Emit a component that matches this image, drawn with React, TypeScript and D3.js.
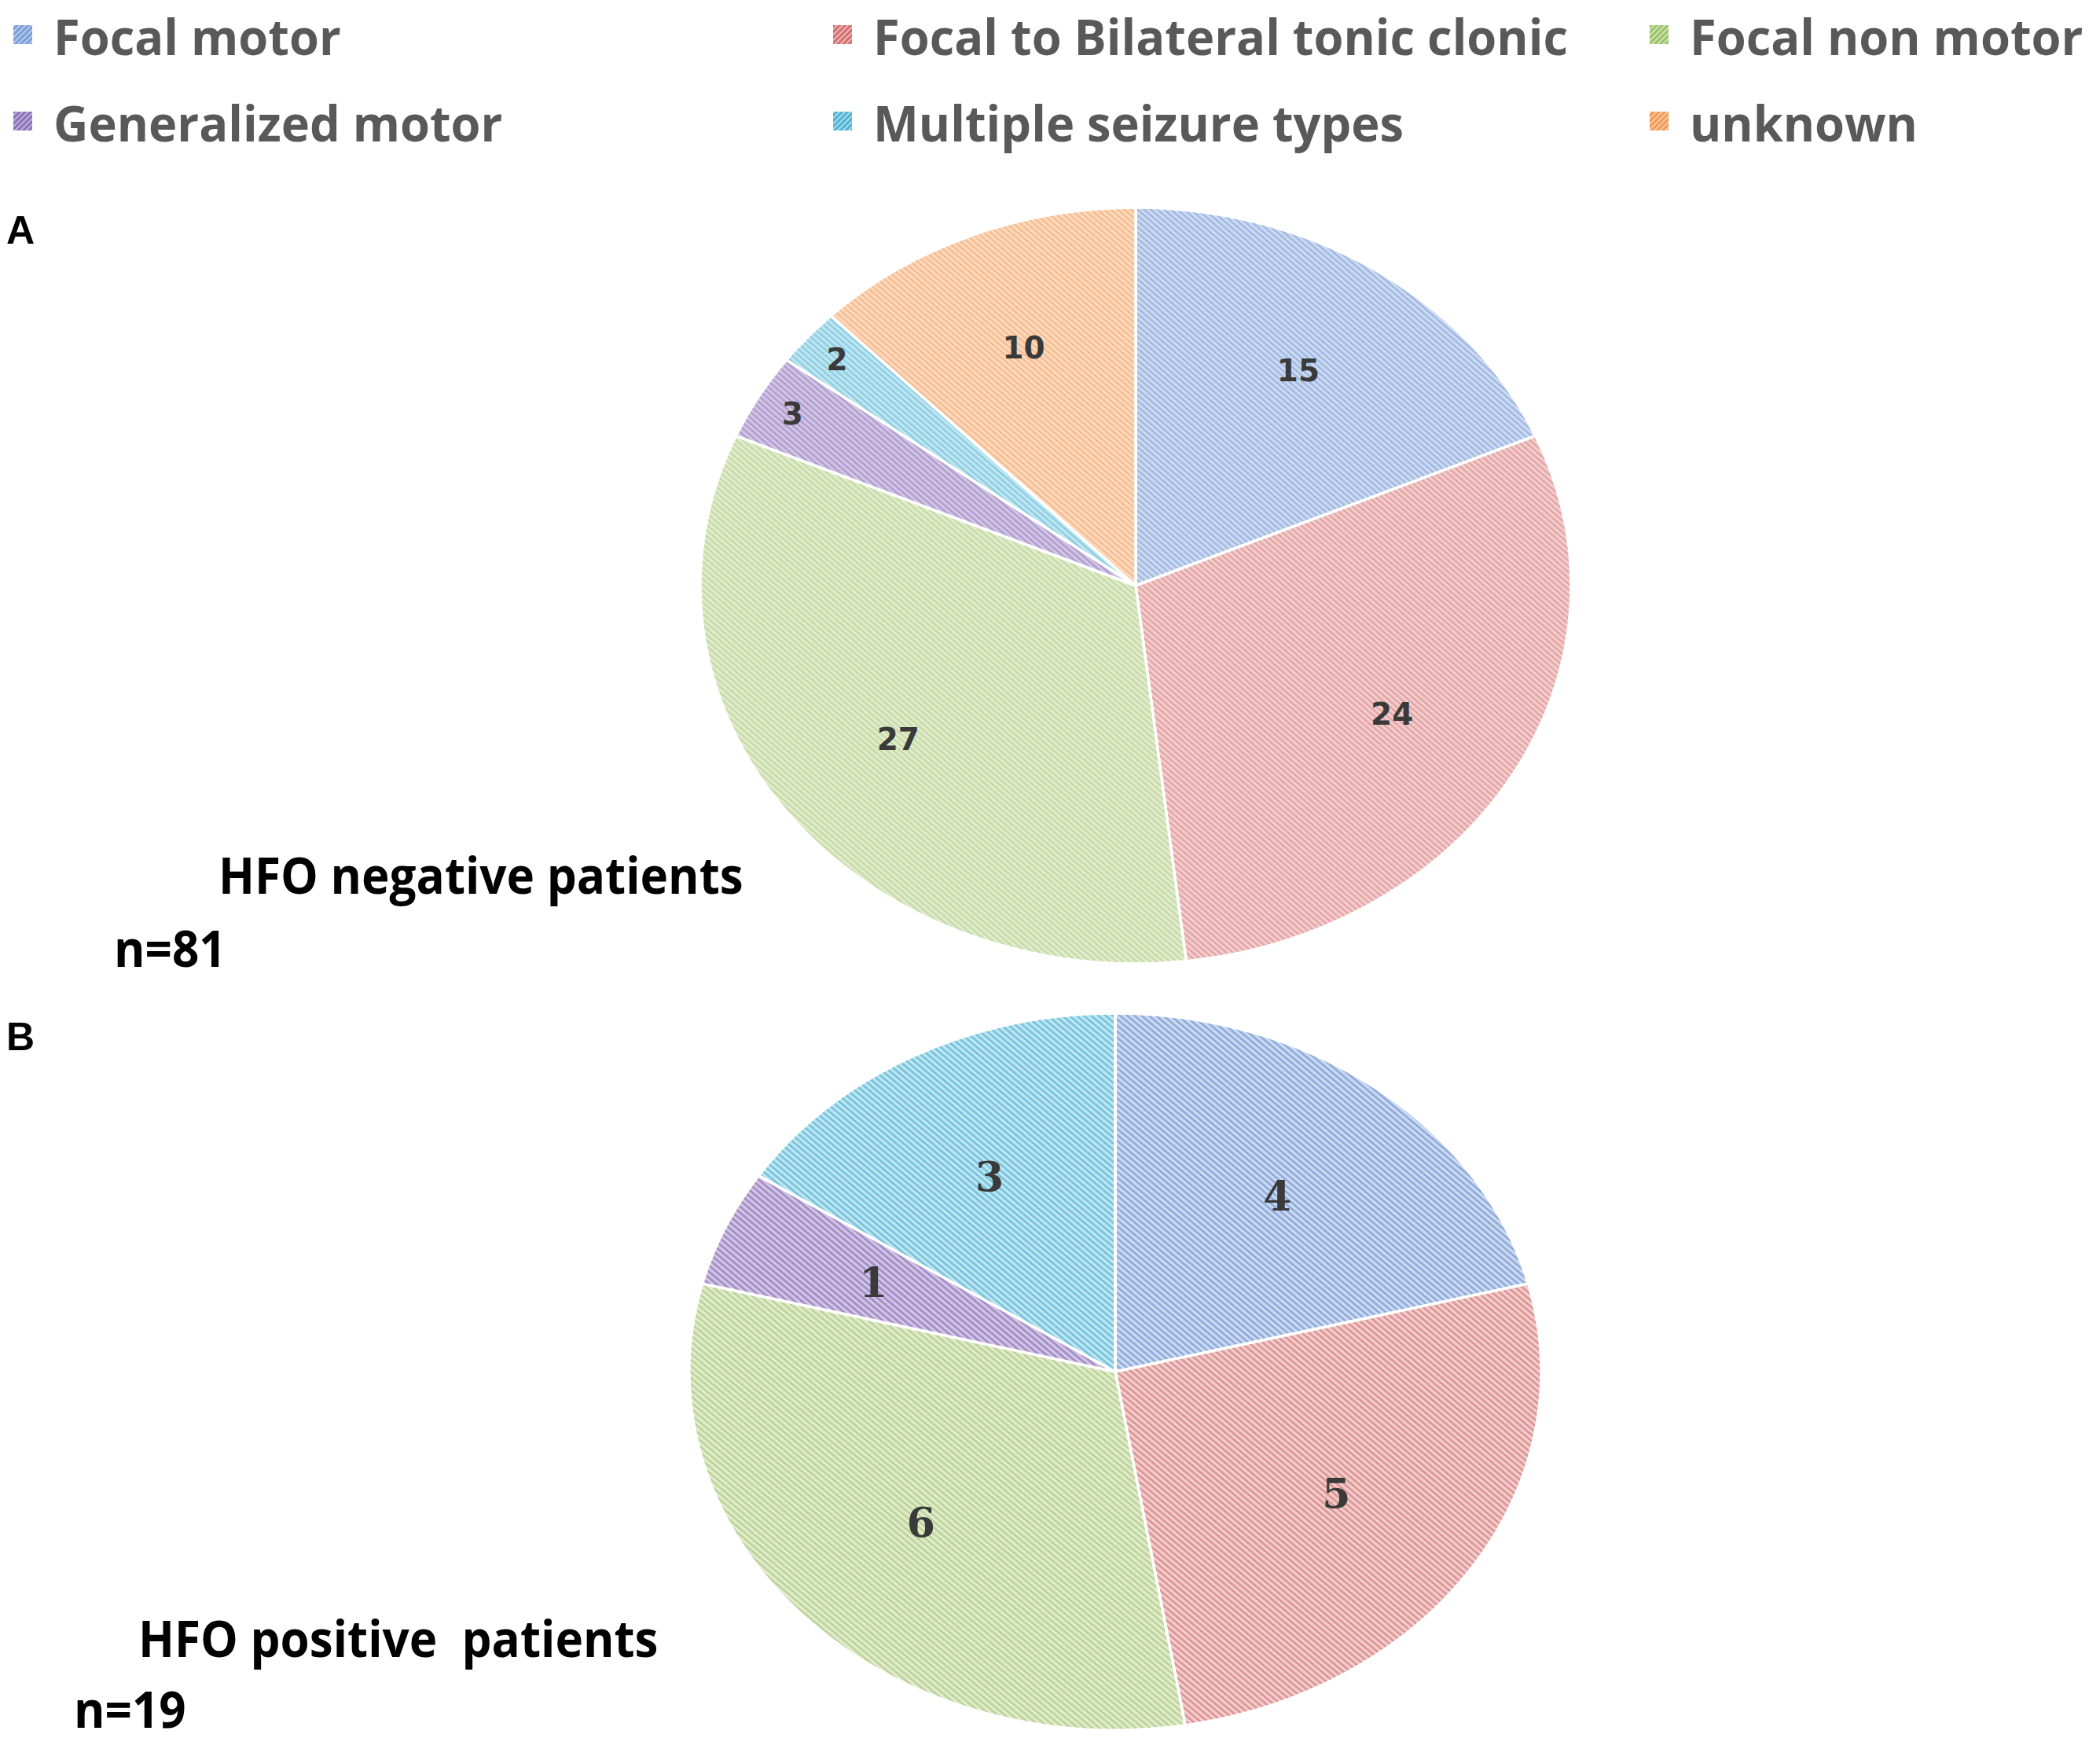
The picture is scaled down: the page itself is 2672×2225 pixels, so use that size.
import React from "react";
import * as d3 from "d3";

// seizure type categories, in slice order (clockwise from 12 o'clock)
const categories = [
  "Focal motor",
  "Focal to Bilateral tonic clonic",
  "Focal non motor",
  "Generalized motor",
  "Multiple seizure types",
  "unknown",
];
const negativeCounts = [15, 24, 27, 3, 2, 10]; // HFO negative, n=81
const positiveCounts = [4, 5, 6, 1, 3, 0]; // HFO positive, n=19

const fillColors = ["#cddbf2", "#f4cdcd", "#e1eccc", "#d2c6e4", "#c2e6f1", "#fcdac0"];
const lineColors = ["#8fabd9", "#dc9595", "#bcd49a", "#a28dc8", "#74c4dd", "#f4b07c"];
const markerColors = ["#7c9fd8", "#d46f6f", "#9dc46c", "#8c72b9", "#4fb3d3", "#f39a55"];

const W = 2672;
const H = 2225;

type PieSpec = {
  id: string;
  counts: number[];
  cx: number;
  cy: number;
  rx: number;
  ry: number;
  labelFont: string;
  labelSize: number;
  labelR: number;
  stripe: number;
  stripeWidth: number;
  stripeOpacity: number;
};

const pies: PieSpec[] = [
  {
    id: "neg",
    counts: negativeCounts,
    cx: 1445,
    cy: 745,
    rx: 554,
    ry: 481,
    labelFont: "'DejaVu Sans', sans-serif",
    labelSize: 39,
    labelR: 0.68,
    stripe: 6,
    stripeWidth: 2.6,
    stripeOpacity: 0.75,
  },
  {
    id: "pos",
    counts: positiveCounts,
    cx: 1419,
    cy: 1745,
    rx: 542,
    ry: 456,
    labelFont: "'DejaVu Serif', serif",
    labelSize: 52,
    labelR: 0.62,
    stripe: 6.5,
    stripeWidth: 3,
    stripeOpacity: 1,
  },
];

const pie = d3
  .pie<number>()
  .sort(null)
  .value((d) => d);

const Pie: React.FC<{ spec: PieSpec }> = ({ spec }) => {
  const { cx, cy, rx, ry } = spec;
  const k = ry / rx;
  const total = d3.sum(spec.counts);
  const arcs = pie(spec.counts);
  const arc = d3.arc<d3.PieArcDatum<number>>().innerRadius(0).outerRadius(rx);

  return (
    <g>
      <g transform={`translate(${cx},${cy}) scale(1,${k})`}>
        {arcs.map((a, i) => (
          <path
            key={i}
            d={arc(a) || ""}
            fill={`url(#pat-${spec.id}-${i})`}
            stroke="#ffffff"
            strokeWidth={3.5}
            vectorEffect="non-scaling-stroke"
            strokeLinejoin="round"
          />
        ))}
      </g>
      {arcs.map((a, i) => {
        if (a.value === 0) return null;
        // small slices get their label pushed toward the rim
        const r = a.value / total < 0.05 ? 0.91 : spec.labelR;
        const mid = (a.startAngle + a.endAngle) / 2;
        const x = cx + Math.sin(mid) * rx * r;
        const y = cy - Math.cos(mid) * ry * r;
        return (
          <text
            key={i}
            x={x}
            y={y}
            textAnchor="middle"
            dominantBaseline="central"
            fontFamily={spec.labelFont}
            fontWeight="bold"
            fontSize={spec.labelSize}
            fill="#3a3a3a"
          >
            {a.value}
          </text>
        );
      })}
    </g>
  );
};

const legendCols = [17, 1060, 2099];
const legendRows = [70, 180];

export default function App() {
  return (
    <svg
      width={W}
      height={H}
      viewBox={`0 0 ${W} ${H}`}
      style={{ position: "absolute", left: 0, top: 0, background: "#ffffff" }}
    >
      <defs>
        {pies.map((p) =>
          categories.map((_, i) => (
            <pattern
              key={`${p.id}-${i}`}
              id={`pat-${p.id}-${i}`}
              patternUnits="userSpaceOnUse"
              width={p.stripe}
              height={p.stripe}
              patternTransform="rotate(-45)"
            >
              <rect width={p.stripe} height={p.stripe} fill={fillColors[i]} />
              <rect
                width={p.stripeWidth}
                height={p.stripe}
                fill={lineColors[i]}
                fillOpacity={p.stripeOpacity}
              />
            </pattern>
          ))
        )}
        {categories.map((_, i) => (
          <pattern
            key={`leg-${i}`}
            id={`pat-leg-${i}`}
            patternUnits="userSpaceOnUse"
            width={5}
            height={5}
            patternTransform="rotate(45)"
          >
            <rect width={5} height={5} fill={markerColors[i]} />
            <rect width={1.5} height={5} fill={fillColors[i]} />
          </pattern>
        ))}
      </defs>

      {/* legend */}
      {categories.map((c, i) => {
        const x = legendCols[i % 3];
        const y = legendRows[Math.floor(i / 3)];
        return (
          <g key={c}>
            <rect x={x} y={y - 38} width={24} height={24} fill={`url(#pat-leg-${i})`} />
            <text
              transform={`translate(${x + 51},${y}) scale(0.99,1)`}
              fontFamily="'Open Sans', sans-serif"
              fontWeight="bold"
              fontSize={62}
              fill="#595959"
            >
              {c}
            </text>
          </g>
        );
      })}

      {/* panel letters */}
      <text x={8} y={310} fontFamily="'Liberation Sans', Arial, sans-serif" fontWeight="bold" fontSize={50} fill="#000">
        A
      </text>
      <text x={8} y={1336} fontFamily="'Liberation Sans', Arial, sans-serif" fontWeight="bold" fontSize={50} fill="#000">
        B
      </text>

      {pies.map((p) => (
        <Pie key={p.id} spec={p} />
      ))}

      {/* panel captions */}
      <g fontFamily="'Open Sans', sans-serif" fontWeight="bold" fontSize={64} fill="#000">
        <text transform="translate(278,1137) scale(0.94,1)">HFO negative patients</text>
        <text transform="translate(145,1230) scale(0.94,1)">n=81</text>
        <text transform="translate(176,2108) scale(0.94,1)" style={{ whiteSpace: "pre" }}>
          HFO positive  patients
        </text>
        <text transform="translate(94,2198) scale(0.94,1)">n=19</text>
      </g>
    </svg>
  );
}
